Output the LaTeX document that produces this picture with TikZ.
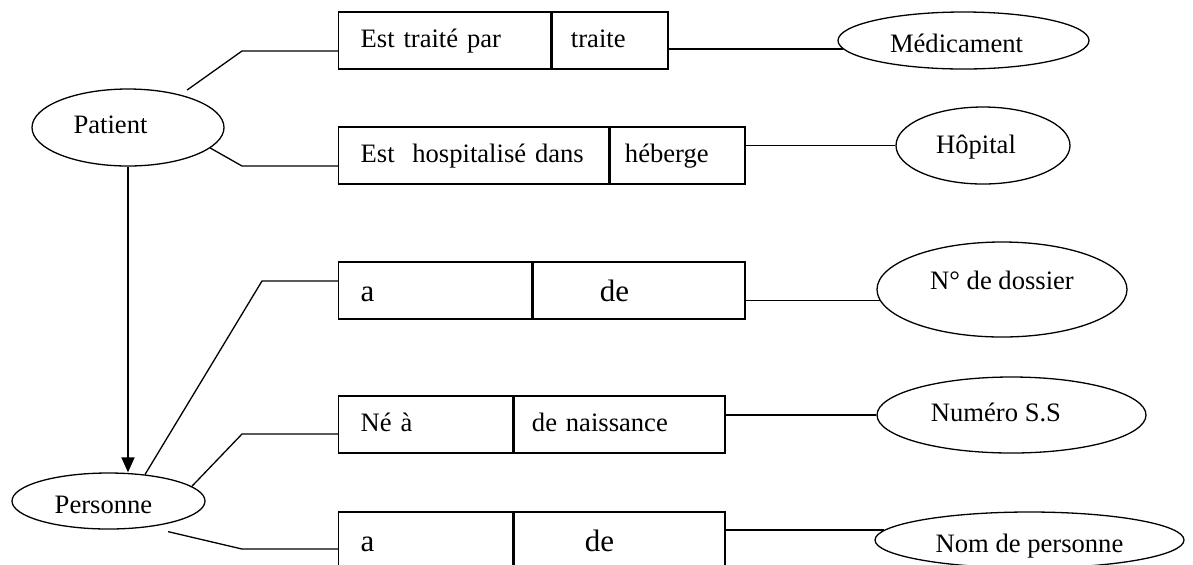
\documentclass[tikz,border=0pt]{standalone}
\usepackage{fontspec}
\setmainfont{Liberation Serif}
\usetikzlibrary{shapes.geometric,arrows.meta}

\begin{document}
\begin{tikzpicture}[x=0.5pt, y=-0.5pt, line width=0.65pt,
	font=\fontsize{13.3}{16}\selectfont,
	cell/.style={draw, anchor=west, minimum height=28.5pt, inner ysep=0pt, align=left, text height=9.5pt, text depth=3pt},
	big/.style={font=\fontsize{15.5}{18}\selectfont, text height=13.5pt, text depth=3pt},
	entity/.style={draw, ellipse, inner sep=0pt, text height=9pt, text depth=3pt}]
	\useasboundingbox (0,0) rectangle (1193,564);
	\node[entity, minimum width=96pt, minimum height=38.5pt] (patient) at (128,127.5) {Patient\rule{17.5pt}{0pt}};
	\node[entity, minimum width=96.5pt, minimum height=28pt, text height=15pt] (personne) at (108.5,501) {Personne\rule{5pt}{0pt}};
	\node[entity, minimum width=125.5pt, minimum height=28.5pt, text height=14.5pt] (medic) at (963.5,40.5) {Médicament\rule{7pt}{0pt}};
	\node[entity, minimum width=87pt, minimum height=38.5pt, text height=11pt] (hopital) at (983,145.5) {Hôpital\rule{7pt}{0pt}};
	\node[entity, minimum width=125pt, minimum height=47.5pt, text depth=9pt] (dossier) at (1002,289.5) {N° de dossier};
	\node[entity, minimum width=134.5pt, minimum height=38pt] (numero) at (1011.5,415) {Numéro S.S\rule{15.5pt}{0pt}};
	\node[entity, minimum width=154.5pt, minimum height=28pt, text height=15pt] (nom) at (1029.5,540) {Nom de personne};
	\node[cell, inner xsep=11pt, text width=84pt] (trL) at (338,40.5) {Est traité par};
	\node[cell, inner xsep=9.5pt, text width=39pt] (trR) at (trL.east) {traite};
	\node[cell, inner xsep=11pt, text width=113pt] (hoL) at (338,155.5) {Est~~hospitalisé dans};
	\node[cell, inner xsep=7.5pt, text width=52.5pt] (hoR) at (hoL.east) {héberge};
	\node[cell, big, inner xsep=11pt, text width=74.5pt] (doL) at (338,290.5) {a};
	\node[cell, big, inner xsep=33.5pt, text width=39pt] (doR) at (doL.east) {de};
	\node[cell, inner xsep=11pt, text width=65pt] (naL) at (338,424.5) {Né à};
	\node[cell, inner xsep=9pt, text width=87.5pt] (naR) at (naL.east) {de naissance};
	\node[cell, big, inner xsep=11pt, text width=65pt] (noL) at (338,540.5) {a};
	\node[cell, big, inner xsep=35.5pt, text width=34.5pt] (noR) at (noL.east) {de};
	\coordinate (kTr) at (242,51);
	\coordinate (kHo) at (242,166);
	\coordinate (kDo) at (262,281);
	\coordinate (kNa) at (242,434);
	\coordinate (kNo) at (242,549);
	\draw[shorten <=4pt] (patient.32) -- (kTr) -- (kTr -| trL.west);
	\draw (patient.-14) -- (kHo) -- (kHo -| hoL.west);
	\draw (personne.36) -- (kDo) -- (kDo -| doL.west);
	\draw (personne.10) -- (kNa) -- (kNa -| naL.west);
	\draw[shorten <=10pt] (personne.-33) -- (kNo) -- (kNo -| noL.west);
	\draw[line width=1pt, -{Triangle[length=7.5pt, width=6.5pt]}] (patient.south) -- (patient.south |- personne.north);
	\draw (trR.east |- medic.184) -- (medic.184);
	\draw (hoR.east |- hopital.west) -- (hopital.west);
	\draw (doR.east |- dossier.185) -- (dossier.185);
	\draw (naR.east |- numero.west) -- (numero.west);
	\draw (noR.east |- nom.176) -- (nom.176);
\end{tikzpicture}
\end{document}
